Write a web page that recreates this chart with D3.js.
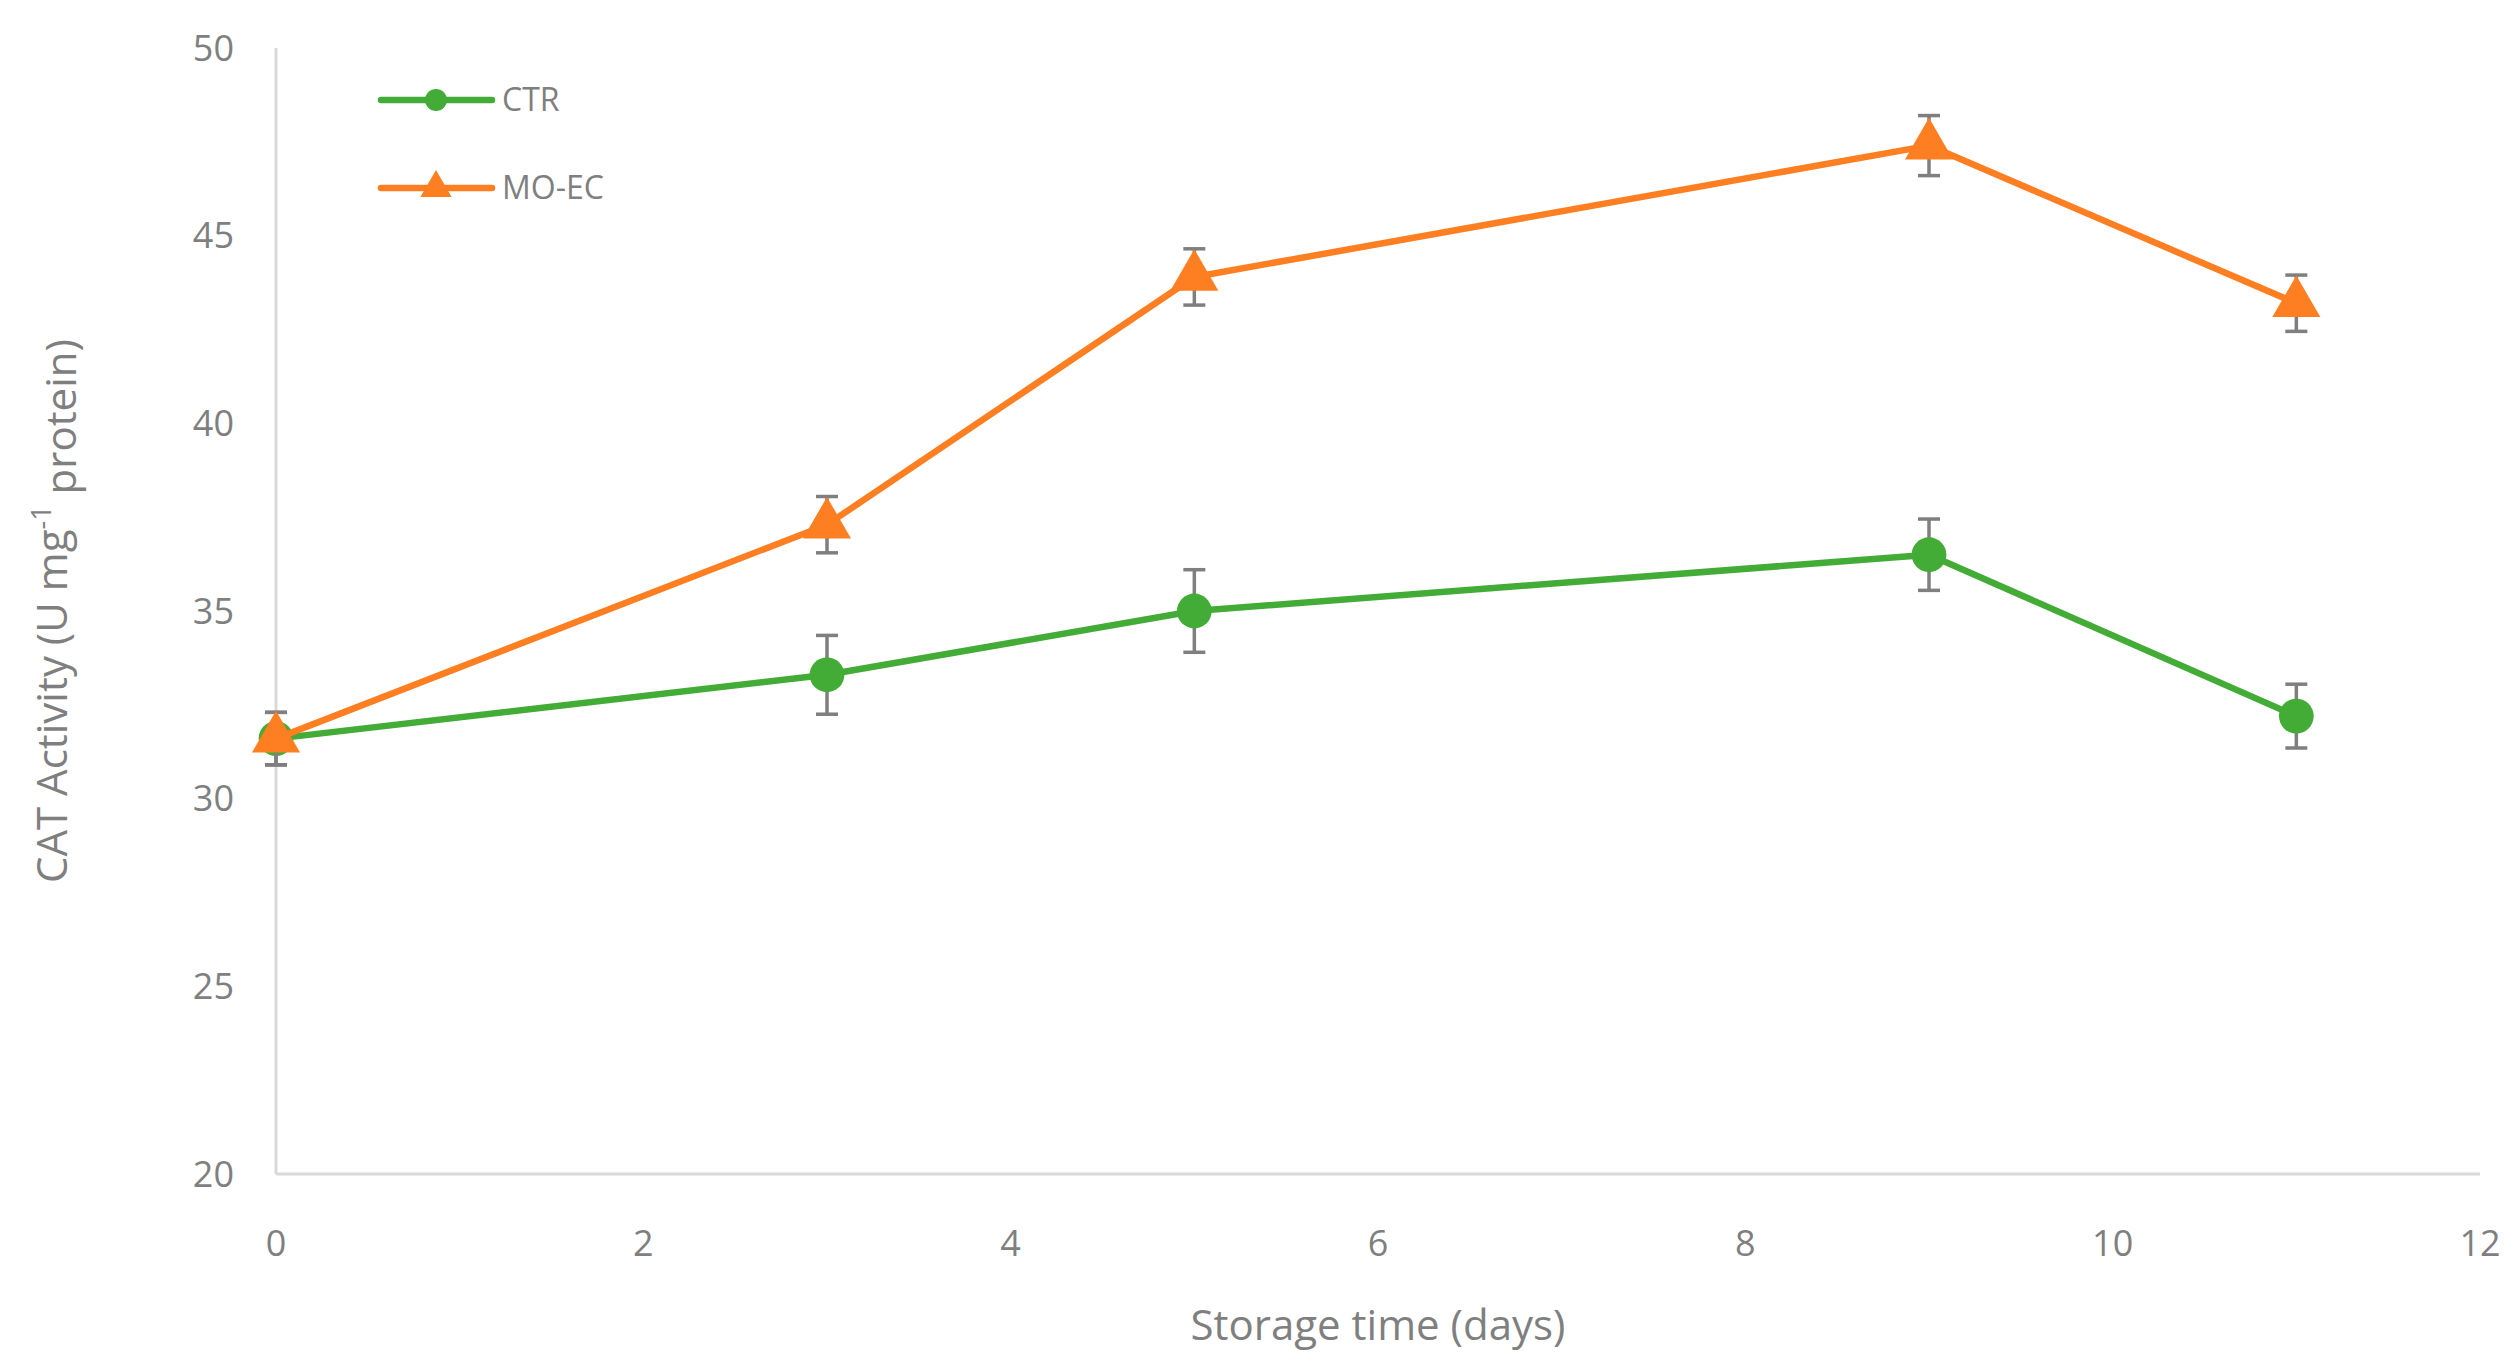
<!DOCTYPE html>
<html><head><meta charset="utf-8">
<script src="https://cdn.jsdelivr.net/npm/d3@7"></script>
<style>body{margin:0;background:#fff}text{font-family:"Open Sans","Noto Sans",sans-serif;fill:#7f7f7f}</style>
</head><body><svg id="c" width="2520" height="1371"></svg>
<script>
var days = [0, 3, 5, 9, 11];
var ctr = [31.6, 33.3, 35.0, 36.5, 32.2];
var ctrErr = [0.7, 1.05, 1.1, 0.95, 0.85];
var moec = [31.6, 37.3, 43.9, 47.4, 43.2];
var moecErr = [0.7, 0.75, 0.75, 0.8, 0.75];
var xTicks = [0, 2, 4, 6, 8, 10, 12];
var yTicks = [20, 25, 30, 35, 40, 45, 50];

var svg = d3.select("#c");
var x = d3.scaleLinear().domain([0, 12]).range([276, 2480]);
var y = d3.scaleLinear().domain([20, 50]).range([1174, 48]);

svg.append("line").attr("x1", x(0)).attr("x2", x(0)).attr("y1", y(50)).attr("y2", y(20))
  .attr("stroke", "#d9d9d9").attr("stroke-width", 3);
svg.append("line").attr("x1", x(0)).attr("x2", x(12)).attr("y1", y(20)).attr("y2", y(20))
  .attr("stroke", "#d9d9d9").attr("stroke-width", 3);

svg.selectAll(".yt").data(yTicks).enter().append("text")
  .attr("x", 234).attr("y", function(d){ return y(d); }).attr("dy", "0.35em")
  .attr("text-anchor", "end").attr("font-size", 36).text(function(d){ return d; });
svg.selectAll(".xt").data(xTicks).enter().append("text")
  .attr("x", function(d){ return x(d); }).attr("y", 1243).attr("dy", "0.35em")
  .attr("text-anchor", "middle").attr("font-size", 36).text(function(d){ return d; });

svg.append("text").attr("x", x(6)).attr("y", 1325).attr("dy", "0.35em")
  .attr("text-anchor", "middle").attr("font-size", 42).text("Storage time (days)");
var yl = svg.append("text").attr("transform", "translate(52," + y(35) + ") rotate(-90)")
  .attr("dy", "0.35em").attr("text-anchor", "middle").attr("font-size", 42);
yl.append("tspan").text("CAT Activity (U mg");
yl.append("tspan").attr("dy", "-0.6em").attr("font-size", 27).text("-1");
yl.append("tspan").attr("dy", "0.6em").text(" protein)");

var series = [
  {name: "CTR", vals: ctr, err: ctrErr, color: "#43ac37", shape: d3.symbolCircle},
  {name: "MO-EC", vals: moec, err: moecErr, color: "#fe7e22", shape: d3.symbolTriangle}
];
var line = d3.line().x(function(d){ return x(d[0]); }).y(function(d){ return y(d[1]); });

series.forEach(function(s, si){
  var pts = days.map(function(d, i){ return [d, s.vals[i], s.err[i]]; });
  svg.append("path").datum(pts).attr("d", line).attr("fill", "none")
    .attr("stroke", s.color).attr("stroke-width", 6.5).attr("stroke-linejoin", "round");
  var eb = svg.append("g").attr("stroke", "#7f7f7f").attr("stroke-width", 3.5);
  pts.forEach(function(p){
    eb.append("line").attr("x1", x(p[0])).attr("x2", x(p[0])).attr("y1", y(p[1]-p[2])).attr("y2", y(p[1]+p[2]));
    [p[1]-p[2], p[1]+p[2]].forEach(function(v){
      eb.append("line").attr("x1", x(p[0])-11).attr("x2", x(p[0])+11).attr("y1", y(v)).attr("y2", y(v));
    });
  });
  svg.selectAll(".m"+si).data(pts).enter().append("path")
    .attr("d", d3.symbol().type(s.shape).size(si ? 1000 : 950))
    .attr("transform", function(p){ return "translate(" + x(p[0]) + "," + y(p[1]) + ")"; })
    .attr("fill", s.color);
  var ly = 100 + si * 88;
  svg.append("line").attr("x1", 381).attr("x2", 492).attr("y1", ly).attr("y2", ly)
    .attr("stroke", s.color).attr("stroke-width", 6.5).attr("stroke-linecap", "round");
  svg.append("path").attr("d", d3.symbol().type(s.shape).size(si ? 420 : 380))
    .attr("transform", "translate(436," + ly + ")").attr("fill", s.color);
  svg.append("text").attr("x", 502).attr("y", ly).attr("dy", "0.35em").attr("font-size", 32).text(s.name);
});
</script></body></html>
